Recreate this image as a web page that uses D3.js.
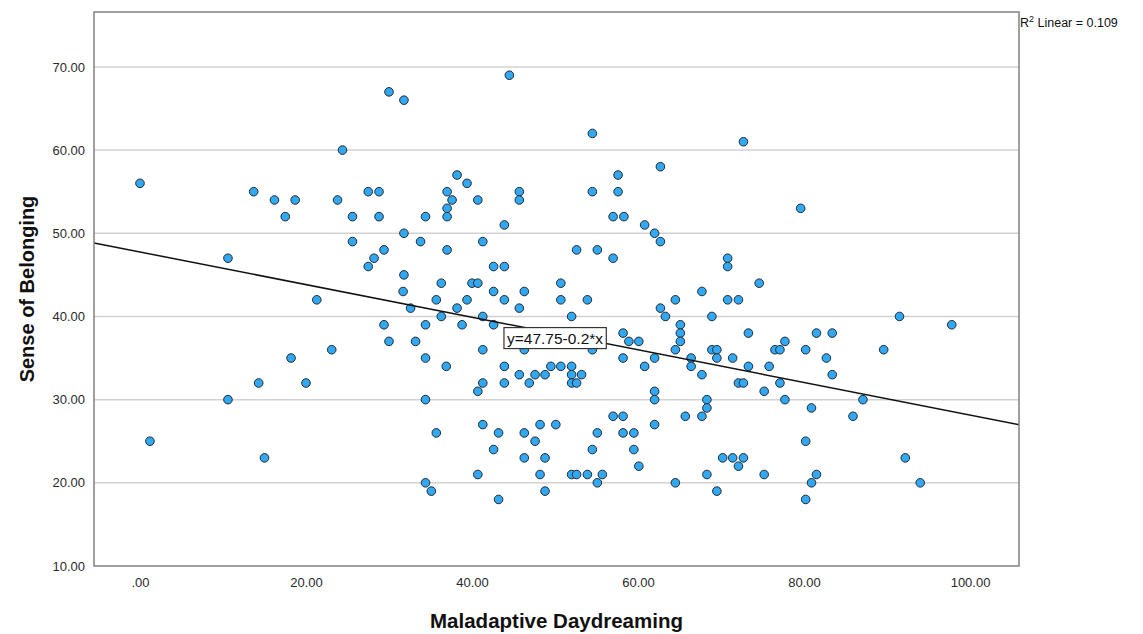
<!DOCTYPE html>
<html>
<head>
<meta charset="utf-8">
<script src="https://cdn.jsdelivr.net/npm/d3@7"></script>
<style>
  html, body { margin: 0; padding: 0; background: #ffffff; }
  svg { display: block; font-family: Arial, "Liberation Sans", sans-serif; }
</style>
</head>
<body>
<svg id="chart" width="1143" height="634"></svg>
<script>
// ---- Data ----
const daydreaming = [
  30.0, 31.8, 24.4, 0.0, 13.7, 16.2, 18.7, 17.5, 23.8, 27.5, 28.8, 25.6, 28.8, 31.8, 25.6, 29.4, 28.2, 27.5, 10.6, 31.8,
  31.7, 21.3, 29.4, 30.0, 23.1, 18.2, 14.3, 20.0, 10.6, 1.2, 15.0,
  44.5, 54.5, 62.7, 38.2, 39.4, 37.0, 37.6, 37.0, 37.0, 40.7, 45.7, 45.7, 34.4, 54.5, 57.6, 57.6, 57.0, 58.3, 60.8,
  62.0, 62.7, 43.9, 33.8, 37.0, 41.3, 52.6, 55.1, 57.0, 42.6, 43.9, 36.3, 40.0, 40.7, 50.7, 42.6, 46.3, 67.7,
  35.7, 39.4, 43.9, 50.7, 53.9, 64.5,
  32.6, 38.2, 45.7, 62.7,
  36.3, 41.3, 52.0, 63.3,
  34.4, 38.8, 42.6, 65.1,
  58.2, 65.1,
  33.2, 58.9, 60.1, 65.1,
  41.3, 46.3, 54.5, 64.5,
  34.4, 58.2, 62.0, 66.4,
  36.9, 43.9, 49.5, 50.7, 52.0, 60.8, 66.4,
  45.7, 47.6, 48.8, 52.0, 53.2, 67.7,
  41.3, 43.9, 46.9, 52.0, 52.6,
  40.7, 62.0,
  34.4, 62.0, 68.3,
  68.3,
  57.0, 58.2, 65.7, 67.7,
  41.3, 48.2, 50.1, 62.0,
  35.7, 43.2, 46.3, 55.1, 58.2, 59.5,
  47.6,
  42.6, 54.5, 59.5,
  46.3, 48.8,
  60.1,
  40.7, 48.2, 52.0, 52.6, 53.9, 55.7, 68.3,
  34.4, 55.1, 64.5,
  35.1, 48.8,
  43.2,
  72.7, 79.6, 70.8, 70.8, 74.6,
  70.8, 72.1,
  68.9, 91.5,
  97.8,
  73.3, 81.5, 83.4,
  77.7,
  68.9, 69.5, 76.5, 77.1, 80.2, 89.6,
  69.5, 71.4, 82.7,
  73.3, 75.8,
  83.4,
  72.1, 72.7, 77.1,
  75.2,
  77.7, 87.1,
  80.9,
  85.9,
  80.2,
  70.2, 71.4, 72.7, 92.2,
  72.1,
  75.2, 81.5,
  80.9, 94.0,
  69.5,
  80.2
];
const belonging = [
  67, 66, 60, 56, 55, 54, 54, 52, 54, 55, 55, 52, 52, 50, 49, 48, 47, 46, 47, 45,
  43, 42, 39, 37, 36, 35, 32, 32, 30, 25, 23,
  69, 62, 58, 57, 56, 55, 54, 53, 52, 54, 55, 54, 52, 55, 57, 55, 52, 52, 51,
  50, 49, 51, 49, 48, 49, 48, 48, 47, 46, 46, 44, 44, 44, 44, 43, 43, 43,
  42, 42, 42, 42, 42, 42,
  41, 41, 41, 41,
  40, 40, 40, 40,
  39, 39, 39, 39,
  38, 38,
  37, 37, 37, 37,
  36, 36, 36, 36,
  35, 35, 35, 35,
  34, 34, 34, 34, 34, 34, 34,
  33, 33, 33, 33, 33, 33,
  32, 32, 32, 32, 32,
  31, 31,
  30, 30, 30,
  29,
  28, 28, 28, 28,
  27, 27, 27, 27,
  26, 26, 26, 26, 26, 26,
  25,
  24, 24, 24,
  23, 23,
  22,
  21, 21, 21, 21, 21, 21, 21,
  20, 20, 20,
  19, 19,
  18,
  61, 53, 47, 46, 44,
  42, 42,
  40, 40,
  39,
  38, 38, 38,
  37,
  36, 36, 36, 36, 36, 36,
  35, 35, 35,
  34, 34,
  33,
  32, 32, 32,
  31,
  30, 30,
  29,
  28,
  25,
  23, 23, 23, 23,
  22,
  21, 21,
  20, 20,
  19,
  18
];
const xTickValues = [0, 20, 40, 60, 80, 100];
const xTickLabels = [".00", "20.00", "40.00", "60.00", "80.00", "100.00"];
const yTickValues = [10, 20, 30, 40, 50, 60, 70];
const yTickLabels = ["10.00", "20.00", "30.00", "40.00", "50.00", "60.00", "70.00"];
const regIntercept = 47.75;
const regSlope = -0.196;
const equationText = "y=47.75-0.2*x";
const equationAtX = 50.0;
const equationAtY = 37.4;
const rSquaredText = "0.109";
const xTitle = "Maladaptive Daydreaming";
const yTitle = "Sense of Belonging";

// ---- Layout ----
const svg = d3.select("#chart");
const plot = { left: 94, top: 12, right: 1019, bottom: 566 };
const xDomain = [-5.54, 105.9];
const yDomain = [10, 76.6];

const x = d3.scaleLinear().domain(xDomain).range([plot.left, plot.right]);
const y = d3.scaleLinear().domain(yDomain).range([plot.bottom, plot.top]);

// Gridlines
svg.append("g")
  .selectAll("line")
  .data(yTickValues.filter(v => v > yDomain[0]))
  .join("line")
  .attr("x1", plot.left).attr("x2", plot.right)
  .attr("y1", d => y(d)).attr("y2", d => y(d))
  .attr("stroke", "#d2d2d2")
  .attr("stroke-width", 1.5);

// Axes (labels only, SPSS style)
const xAxis = d3.axisBottom(x)
  .tickValues(xTickValues)
  .tickFormat((d, i) => xTickLabels[i])
  .tickSize(0)
  .tickPadding(12);
const gx = svg.append("g")
  .attr("transform", `translate(0,${plot.bottom})`)
  .call(xAxis);
gx.select(".domain").remove();
gx.selectAll("text")
  .attr("font-size", 13)
  .attr("fill", "#2a2a2a")
  .attr("font-family", "Arial, 'Liberation Sans', sans-serif");

const yAxis = d3.axisLeft(y)
  .tickValues(yTickValues)
  .tickFormat((d, i) => yTickLabels[i])
  .tickSize(0)
  .tickPadding(9);
const gy = svg.append("g")
  .attr("transform", `translate(${plot.left},0)`)
  .call(yAxis);
gy.select(".domain").remove();
gy.selectAll("text")
  .attr("font-size", 13)
  .attr("fill", "#2a2a2a")
  .attr("font-family", "Arial, 'Liberation Sans', sans-serif");

// Points
svg.append("g")
  .selectAll("circle")
  .data(daydreaming.map((d, i) => [d, belonging[i]]))
  .join("circle")
  .attr("cx", d => x(d[0]))
  .attr("cy", d => y(d[1]))
  .attr("r", 4.3)
  .attr("fill", "#33a8f2")
  .attr("stroke", "#1f2a33")
  .attr("stroke-width", 1);

// Regression line
svg.append("line")
  .attr("x1", x(xDomain[0])).attr("y1", y(regIntercept + regSlope * xDomain[0]))
  .attr("x2", x(xDomain[1])).attr("y2", y(regIntercept + regSlope * xDomain[1]))
  .attr("stroke", "#111")
  .attr("stroke-width", 1.5);

// Equation label box
const eqG = svg.append("g");
const eqText = eqG.append("text")
  .attr("x", x(equationAtX))
  .attr("y", y(equationAtY))
  .attr("text-anchor", "middle")
  .attr("dominant-baseline", "central")
  .attr("font-size", 15.5)
  .attr("fill", "#111")
  .text(equationText);
const bb = eqText.node().getBBox();
eqG.insert("rect", "text")
  .attr("x", bb.x - 3).attr("y", bb.y - 2)
  .attr("width", bb.width + 6).attr("height", bb.height + 4)
  .attr("fill", "#fff")
  .attr("stroke", "#333")
  .attr("stroke-width", 1.2);

// Frame
svg.append("rect")
  .attr("x", plot.left).attr("y", plot.top)
  .attr("width", plot.right - plot.left).attr("height", plot.bottom - plot.top)
  .attr("fill", "none")
  .attr("stroke", "#808080")
  .attr("stroke-width", 1.5);

// R² label
const r2 = svg.append("text")
  .attr("x", plot.right + 1)
  .attr("y", 27)
  .attr("font-size", 12.5)
  .attr("fill", "#111");
r2.append("tspan").text("R");
r2.append("tspan").attr("font-size", 9).attr("dy", -5).text("2");
r2.append("tspan").attr("dy", 5).text(" Linear = " + rSquaredText);

// Axis titles
svg.append("text")
  .attr("x", (plot.left + plot.right) / 2)
  .attr("y", 628)
  .attr("text-anchor", "middle")
  .attr("font-size", 20.5)
  .attr("font-weight", "bold")
  .attr("fill", "#111")
  .text(xTitle);

svg.append("text")
  .attr("transform", `translate(34,${(plot.top + plot.bottom) / 2}) rotate(-90)`)
  .attr("text-anchor", "middle")
  .attr("font-size", 20)
  .attr("font-weight", "bold")
  .attr("fill", "#111")
  .text(yTitle);
</script>
</body>
</html>
